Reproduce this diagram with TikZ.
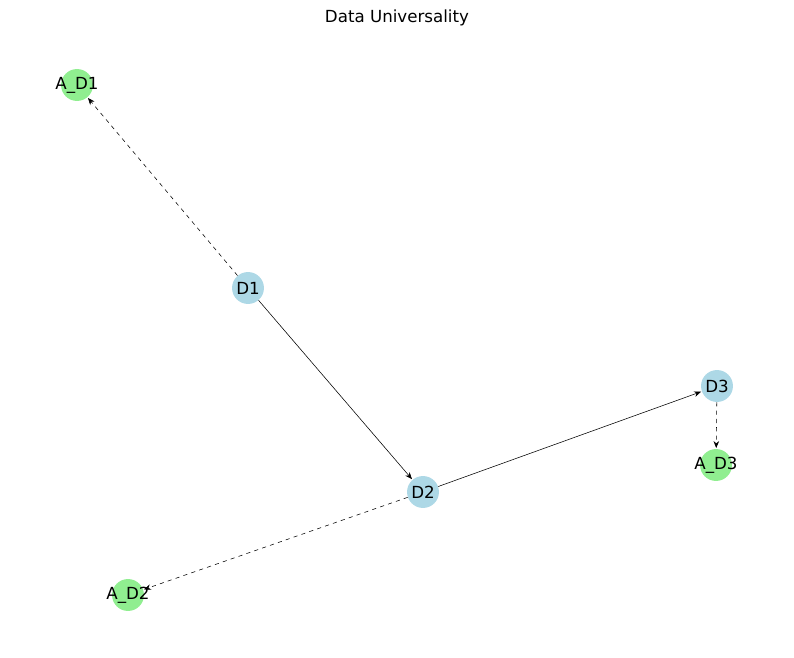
\documentclass[tikz,border=0pt]{standalone}
\usepackage{fontspec}
\setmainfont{DejaVu Sans}
\usetikzlibrary{arrows.meta}
\definecolor{dnode}{RGB}{173,216,230}
\definecolor{anode}{RGB}{144,238,144}
\tikzset{
  data/.style={circle, fill=dnode, minimum size=23pt, inner sep=0pt},
  attr/.style={circle, fill=anode, minimum size=23pt, inner sep=0pt},
  link/.style={draw, -{Stealth[length=5pt,width=4pt]}, shorten >=0.5pt},
  dlink/.style={link, dashed}
}
\begin{document}
\begin{tikzpicture}[x=0.72pt, y=-0.72pt, font=\fontsize{12pt}{14pt}\selectfont]
  \useasboundingbox (0,0) rectangle (794,658);
  \node (title) at (397,18) {Data Universality};
  % nodes
  \node [data] (D1) at (248,288) {};
  \node [data] (D2) at (423,492) {};
  \node [data] (D3) at (717,386) {};
  \node [attr] (AD1) at (77,85) {};
  \node [attr] (AD2) at (128,595) {};
  \node [attr] (AD3) at (716,465) {};
  % edges
  \path [dlink] (D1) -- (AD1);
  \path [link] (D1) -- (D2);
  \path [link] (D2) -- (D3);
  \path [dlink] (D2) -- (AD2);
  \path [dlink] (D3) -- (AD3);
  % labels
  \node at (D1) {D1};
  \node at (D2) {D2};
  \node at (D3) {D3};
  \node at (AD1) {A\_D1};
  \node at (AD2) {A\_D2};
  \node at (AD3) {A\_D3};
\end{tikzpicture}
\end{document}
